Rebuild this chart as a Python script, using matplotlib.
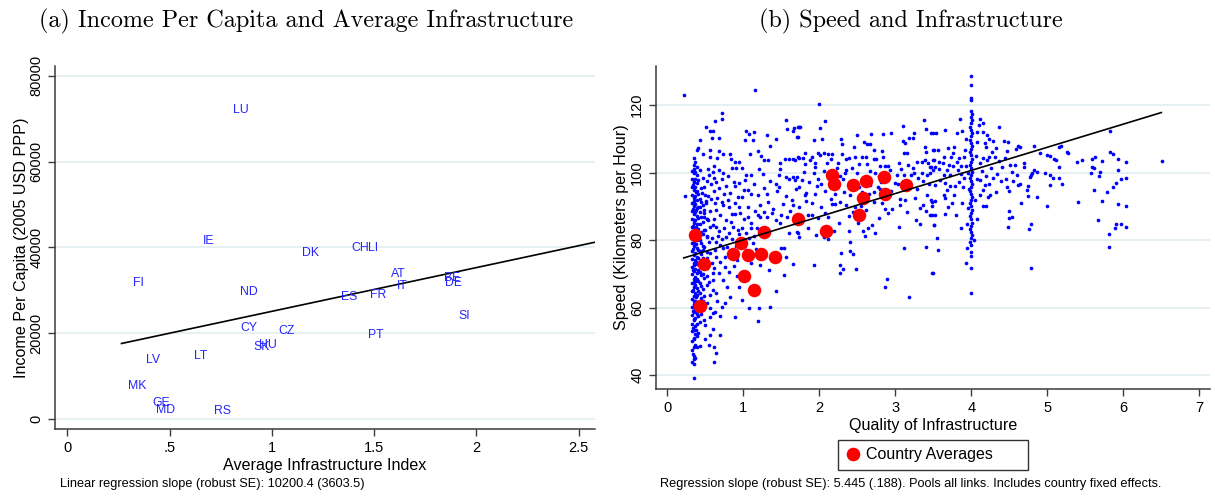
import matplotlib
matplotlib.use("Agg")
import matplotlib.pyplot as plt
from matplotlib.lines import Line2D

plt.rcParams.update({
    "font.family": "Liberation Sans",
    "font.size": 10,
    "axes.unicode_minus": False
})

# ---- panel (a): income per capita vs average infrastructure ----
countries = ["LU", "IE", "DK", "CH", "LI", "AT", "IT", "BE", "DE", "FI", "ND", "ES",
             "FR", "SI", "CY", "CZ", "PT", "HU", "SK", "LV", "LT", "MK", "GE", "MD", "RS"]
infra_idx = [0.85, 0.69, 1.19, 1.43, 1.495, 1.62, 1.64, 1.88, 1.89, 0.35, 0.89, 1.38,
             1.52, 1.94, 0.89, 1.07, 1.51, 0.98, 0.95, 0.42, 0.65, 0.34, 0.46, 0.48, 0.76]
income = [72100, 41500, 38700, 39900, 39900, 33900, 31000, 32900, 31600, 31800, 29700, 28400,
          29000, 24100, 21300, 20500, 19700, 17300, 16700, 13800, 14800, 7800, 3700, 2200, 1800]
fit_a_slope = 10200.4
fit_a_intercept = 14900
fit_a_range = [0.265, 2.6]

# ---- panel (b): speed vs quality of infrastructure ----
country_avg_x = [0.37, 0.49, 0.44, 0.87, 0.97, 1.06, 1.01, 1.14, 1.23, 1.27, 1.42, 1.72,
                 2.09, 2.17, 2.19, 2.45, 2.61, 2.58, 2.52, 2.85, 2.86, 3.14]
country_avg_y = [81.4, 72.8, 60.5, 75.8, 79.2, 75.7, 69.3, 65.1, 76.0, 82.3, 75.0, 86.3,
                 82.6, 99.2, 96.6, 96.3, 97.4, 92.5, 87.5, 98.7, 93.8, 96.4]
fit_b_x = [0.22, 6.50]
fit_b_y = [74.7, 117.8]

# dense column of links with the lowest infrastructure score
col_low_x = [0.33, 0.35, 0.37, 0.39, 0.34, 0.36, 0.38, 0.41, 0.43, 0.45, 0.47, 0.49, 0.52]
col_low_y = [
    [44.0, 47.5, 50.2, 52.9, 55.1, 57.8, 60.3, 62.6, 64.9, 67.3, 69.8, 72.1, 74.4, 76.9,
     79.2, 81.6, 83.8, 86.3, 88.5, 91.0, 93.4, 95.7, 98.1, 100.6],
    [43.2, 45.6, 48.3, 51.0, 53.4, 56.2, 58.7, 61.1, 63.5, 66.0, 68.4, 70.9, 73.2, 75.6,
     78.1, 80.4, 82.9, 85.2, 87.7, 90.1, 92.6, 94.9, 97.3, 99.8, 102.4, 104.2],
    [45.1, 49.0, 52.1, 54.6, 57.0, 59.5, 62.0, 64.2, 66.8, 69.1, 71.5, 74.0, 76.3, 78.8,
     81.1, 83.5, 86.0, 88.4, 90.8, 93.1, 95.6, 98.0, 100.3, 103.1],
    [48.4, 51.6, 55.0, 58.2, 60.9, 63.7, 65.9, 68.6, 70.3, 72.8, 75.1, 77.6, 80.1, 82.3,
     84.7, 87.1, 89.6, 92.0, 94.4, 96.9, 99.2, 101.8],
    [46.3, 54.0, 59.1, 65.2, 71.0, 77.4, 84.2, 89.3, 96.4],
    [44.6, 50.8, 56.7, 61.8, 67.7, 72.6, 79.7, 85.9, 91.7, 97.1, 101.2],
    [53.3, 58.9, 63.0, 67.9, 73.5, 78.9, 84.0, 89.0, 94.3],
    [52.5, 57.4, 61.5, 64.8, 68.0, 71.2, 74.6, 77.1, 80.6, 83.4, 86.6, 89.9, 93.7, 97.9],
    [55.6, 60.8, 64.4, 67.2, 70.6, 73.9, 76.7, 79.9, 84.8, 88.2, 92.2],
    [58.1, 62.9, 66.3, 69.5, 72.4, 75.9, 79.0, 82.5, 86.9, 91.3, 95.5],
    [61.9, 65.6, 70.0, 74.7, 78.3, 81.7, 85.4, 90.4],
    [63.3, 68.8, 73.0, 77.9, 83.1, 88.9],
    [66.6, 71.8, 76.5, 80.9, 86.1],
]

# dense column of links scored exactly 4
col_four_x = [4.00, 3.99, 4.01]
col_four_y = [
    [78.5, 80.6, 82.4, 84.3, 86.2, 88.1, 90.0, 91.8, 93.7, 95.6, 97.5, 99.4, 101.3, 103.2,
     105.1, 107.0, 108.9, 110.8, 112.7, 114.6, 116.5, 118.3, 121.5, 122.0, 125.9, 128.7,
     76.6, 75.2, 71.8, 64.2],
    [79.5, 83.3, 87.1, 90.9, 94.6, 98.4, 102.2, 106.0, 109.8, 113.6],
    [81.5, 85.2, 89.0, 92.8, 96.5, 100.3, 104.1, 107.9, 111.7, 115.5, 117.4],
]

links_low = [
    (0.22, 123.0), (1.16, 124.4), (0.72, 117.7), (0.72, 115.8), (0.63, 115.2), (0.51, 113.5),
    (0.57, 112.2), (0.61, 112.2), (0.59, 110.4), (0.68, 110.4), (0.44, 109.8), (1.04, 112.4),
    (1.08, 111.4), (1.03, 109.6), (1.15, 112.0), (1.13, 109.6), (1.31, 111.0), (1.36, 108.0),
    (1.43, 110.0), (1.56, 115.5), (1.58, 112.9), (1.65, 112.4), (1.67, 113.2), (1.72, 113.6),
    (1.71, 110.6), (0.41, 107.3), (0.39, 106.7), (0.47, 105.5), (0.57, 106.7), (0.69, 106.5),
    (0.74, 105.5), (0.66, 104.2), (0.57, 104.5), (0.83, 105.5), (0.84, 104.1), (0.90, 103.2),
    (0.95, 103.2), (0.91, 101.5), (0.99, 101.5), (1.09, 105.5), (1.19, 106.3), (1.24, 104.9),
    (1.27, 103.7), (1.21, 101.1), (1.33, 103.7), (1.48, 102.7), (1.49, 101.1), (1.55, 104.1),
    (1.61, 104.1), (1.66, 104.1), (1.72, 104.7), (0.62, 101.9), (0.54, 101.1), (0.68, 100.9),
    (0.73, 99.8), (0.62, 98.3), (0.72, 98.2), (0.58, 96.6), (0.48, 95.8), (0.50, 93.4),
    (0.23, 93.2), (0.54, 93.0), (0.62, 94.6), (0.66, 92.4), (0.78, 96.0), (0.83, 94.0),
    (0.88, 97.2), (0.90, 96.0), (0.95, 96.8), (1.04, 99.3), (1.10, 99.3), (1.01, 94.8),
    (1.06, 94.8), (0.93, 92.8), (0.99, 92.8), (1.11, 93.8), (1.19, 93.3), (1.28, 95.3),
    (1.32, 93.8), (1.43, 96.6), (1.47, 95.8), (1.45, 94.6), (1.56, 98.6), (1.61, 98.2),
    (1.66, 98.6), (1.68, 97.8), (1.57, 93.0), (1.64, 91.9), (1.66, 90.3), (0.43, 89.9),
    (0.51, 90.9), (0.57, 88.7), (0.63, 90.9), (0.72, 91.3), (0.74, 90.3), (0.81, 89.9),
    (0.86, 87.7), (0.90, 87.7), (0.96, 88.1), (0.95, 89.7), (1.06, 89.7), (1.06, 86.9),
    (1.16, 88.7), (1.19, 87.3), (1.22, 86.9), (1.28, 88.4), (1.31, 86.9), (1.38, 87.9),
    (1.43, 85.9), (1.50, 87.3), (1.49, 85.1), (1.58, 86.9), (1.60, 82.2), (1.72, 82.2),
    (0.48, 86.9), (0.54, 85.9), (0.62, 86.3), (0.50, 83.0), (0.57, 83.9), (0.65, 83.9),
    (0.67, 81.2), (0.75, 83.5), (0.81, 82.0), (0.87, 83.9), (0.93, 83.0), (0.99, 83.5),
    (1.04, 82.0), (1.10, 83.5), (1.11, 85.1), (1.18, 83.5), (1.22, 83.0), (0.55, 79.5),
    (0.65, 79.5), (0.70, 78.5), (0.74, 77.5), (0.79, 78.0), (0.63, 77.2), (0.57, 76.2),
    (0.65, 75.1), (0.76, 75.1), (0.83, 75.1), (0.92, 74.1), (1.04, 77.0), (1.13, 79.2),
    (1.11, 73.1), (1.22, 72.6), (1.34, 71.1), (1.44, 76.0), (1.50, 77.5), (1.54, 77.5),
    (1.56, 74.9), (1.65, 72.9), (1.54, 69.5), (1.43, 65.0), (1.36, 60.2), (1.21, 59.8),
    (1.08, 59.8), (1.20, 56.0), (0.90, 57.1), (0.98, 62.2), (0.83, 63.0), (0.94, 66.2),
    (0.72, 60.2), (0.76, 61.2), (0.60, 65.2), (0.65, 64.2), (0.55, 67.7), (0.61, 68.3),
    (0.61, 70.3), (0.68, 70.1), (0.74, 68.1), (0.79, 66.0), (0.57, 59.8), (0.60, 58.3),
    (0.63, 58.8), (0.56, 57.1), (0.48, 56.3), (0.56, 52.0), (0.50, 50.6), (0.70, 51.8),
    (0.44, 48.6), (0.62, 48.2), (0.64, 46.4), (0.62, 43.9), (0.35, 39.0),
    (0.44, 100.9), (0.47, 98.4), (0.52, 97.6), (0.55, 99.4), (0.60, 100.2), (0.64, 97.1),
    (0.69, 95.3), (0.75, 93.6), (0.80, 99.0), (0.85, 101.3), (0.46, 93.9), (0.51, 91.7),
    (0.58, 92.1), (0.65, 88.9), (0.70, 87.4), (0.77, 86.0), (0.84, 85.4), (0.49, 88.0),
    (0.53, 86.2), (0.60, 84.6), (0.68, 82.6), (0.72, 80.3), (0.78, 80.9), (0.86, 80.4),
    (0.91, 78.3), (0.95, 81.7), (1.01, 86.2), (1.08, 80.7), (1.15, 81.3), (1.17, 77.3),
    (0.53, 81.1), (0.59, 80.7), (0.47, 77.2), (0.53, 74.8), (0.59, 73.2), (0.62, 71.6),
    (0.70, 73.4), (0.76, 71.9), (0.82, 70.4), (0.88, 72.3), (0.92, 69.4), (0.52, 69.3),
    (0.57, 63.8), (0.53, 61.2), (0.66, 61.9), (0.70, 57.4), (0.50, 54.7), (0.55, 48.9),
    (0.60, 53.6), (1.22, 90.4), (1.33, 91.4), (1.39, 89.2), (1.26, 99.7), (1.36, 97.6),
    (1.47, 99.2), (1.52, 90.8), (1.62, 88.6), (1.70, 95.1), (1.15, 96.5), (1.03, 97.8),
    (0.89, 91.0), (0.80, 92.0),
]

links_mid = [
    (2.00, 120.2), (2.08, 115.3), (2.01, 113.1), (2.04, 110.1), (1.93, 109.6), (1.73, 113.6),
    (1.75, 113.6), (1.72, 110.6), (2.29, 109.9), (2.30, 108.6), (2.50, 111.1), (2.46, 107.7),
    (2.59, 109.1), (2.63, 108.6), (2.68, 111.4), (2.67, 108.6), (2.84, 111.4), (2.95, 111.8),
    (3.10, 113.8), (3.10, 109.4), (3.13, 108.9), (3.18, 110.4), (3.23, 110.2), (3.25, 111.6),
    (3.38, 115.5), (3.40, 112.8), (3.47, 111.8), (3.39, 107.5), (3.40, 106.0), (3.50, 106.7),
    (1.82, 105.7), (1.90, 104.7), (1.99, 105.7), (2.01, 105.2), (2.06, 105.7), (2.12, 105.5),
    (2.17, 105.5), (2.30, 105.5), (1.74, 104.2), (1.79, 104.2), (1.88, 103.7), (1.95, 101.7),
    (1.82, 102.5), (1.68, 103.7), (2.11, 102.9), (2.16, 104.1), (2.25, 102.7), (2.36, 103.9),
    (2.39, 104.3), (2.47, 104.5), (2.56, 104.7), (2.61, 104.7), (2.72, 104.1), (2.75, 103.9),
    (2.72, 106.7), (2.83, 106.5), (2.84, 104.7), (2.63, 102.5), (2.80, 102.1), (2.86, 101.9),
    (2.90, 102.1), (3.05, 102.7), (3.11, 105.7), (3.15, 105.7), (2.90, 98.8), (3.24, 101.5),
    (3.29, 103.2), (3.35, 103.1), (3.39, 103.7), (3.43, 102.7), (3.47, 101.7), (3.51, 103.7),
    (1.71, 98.6), (1.77, 97.8), (1.93, 99.8), (1.98, 98.0), (1.97, 96.0), (2.03, 96.6),
    (1.74, 95.8), (1.83, 94.0), (1.82, 93.3), (2.18, 97.8), (2.21, 93.8), (2.25, 96.8),
    (2.34, 99.8), (2.36, 100.7), (2.32, 98.0), (2.40, 96.3), (2.41, 93.3), (2.33, 94.3),
    (2.50, 99.8), (2.52, 95.8), (2.56, 94.2), (2.67, 96.3), (2.74, 99.8), (2.77, 95.8),
    (2.80, 95.0), (2.72, 94.2), (2.82, 97.3), (2.90, 98.3), (3.00, 96.8), (3.04, 96.6),
    (3.11, 99.3), (3.21, 99.3), (3.25, 99.8), (3.30, 98.3), (3.35, 100.0), (3.42, 99.3),
    (3.46, 100.0), (3.50, 100.9), (3.42, 93.3), (3.47, 92.0), (3.49, 90.1), (3.37, 90.4),
    (3.32, 89.4), (3.32, 84.9), (3.27, 85.9), (3.48, 87.4), (3.51, 84.4), (3.40, 77.8),
    (3.49, 70.1), (3.18, 63.0), (2.89, 68.6), (2.87, 66.2), (3.12, 77.5), (3.13, 91.9),
    (3.07, 92.3), (2.96, 89.1), (2.90, 87.9), (2.86, 89.1), (2.83, 90.9), (2.72, 91.4),
    (2.70, 84.4), (2.74, 82.0), (2.64, 83.5), (2.60, 81.2), (2.58, 82.8), (2.55, 90.1),
    (2.47, 89.9), (2.39, 87.1), (2.44, 88.3), (2.39, 82.6), (2.40, 79.4), (2.40, 76.8),
    (2.45, 75.8), (2.49, 71.5), (2.32, 71.3), (2.27, 70.3), (2.28, 72.6), (2.29, 76.2),
    (2.21, 90.7), (2.17, 90.7), (2.12, 86.9), (2.08, 87.9), (2.03, 89.7), (1.90, 91.1),
    (1.86, 87.4), (1.91, 87.4), (2.04, 83.0), (1.86, 83.5), (1.73, 85.1), (1.71, 82.5),
    (1.73, 81.0), (1.96, 81.4), (2.07, 80.8), (2.12, 80.2), (2.19, 82.8), (1.74, 89.9),
    (1.93, 72.6),
    (1.80, 100.2), (1.87, 97.2), (1.94, 102.8), (2.06, 100.6), (2.14, 99.1), (2.23, 101.5),
    (2.28, 98.9), (2.43, 101.3), (2.53, 102.6), (2.67, 100.4), (2.79, 98.9), (2.93, 100.9),
    (3.02, 99.4), (3.08, 101.1), (3.17, 102.2), (3.20, 96.6), (3.29, 95.1), (3.36, 97.4),
    (3.44, 96.5), (1.83, 91.5), (1.95, 93.6), (2.08, 94.4), (2.15, 92.2), (2.27, 91.2),
    (2.36, 90.3), (2.62, 89.0), (2.66, 93.8), (2.95, 94.4), (3.06, 90.5), (3.15, 88.4),
    (3.26, 92.6), (3.40, 88.6), (1.78, 86.1), (1.99, 86.4), (2.26, 85.2), (2.51, 85.0),
    (2.79, 86.6), (3.05, 84.0),
]

links_high = [
    (3.85, 116.0), (3.65, 112.6), (3.50, 111.8), (3.54, 111.8), (3.81, 111.6), (3.88, 112.4),
    (3.93, 110.1), (4.11, 116.0), (4.10, 114.0), (4.15, 114.6), (4.08, 112.1), (4.37, 113.4),
    (4.21, 111.0), (4.24, 110.0), (4.29, 109.3), (4.18, 108.8), (4.43, 109.4), (4.49, 109.2),
    (4.61, 108.0), (4.64, 107.5), (4.59, 106.9), (4.82, 108.0), (4.91, 105.9), (5.00, 105.1),
    (5.04, 104.9), (5.15, 107.7), (5.18, 108.0), (5.26, 106.1), (5.11, 103.7), (5.16, 101.7),
    (5.09, 103.9), (3.70, 107.2), (3.78, 107.7), (3.76, 105.7), (3.73, 104.7), (3.64, 104.5),
    (3.56, 106.7), (3.51, 106.7), (3.50, 103.7), (3.57, 103.2), (3.63, 102.7), (3.53, 101.7),
    (3.46, 101.7), (3.68, 100.7), (3.72, 99.3), (3.76, 101.9), (3.81, 103.2), (3.92, 106.7),
    (3.90, 104.7), (3.87, 101.9), (3.82, 100.7), (3.86, 99.6), (3.93, 101.9), (3.96, 99.8),
    (3.90, 98.3), (4.20, 107.5), (4.27, 106.2), (4.24, 104.7), (4.16, 104.2), (4.21, 103.7),
    (4.12, 102.7), (4.31, 104.7), (4.37, 103.5), (4.44, 104.2), (4.51, 102.2), (4.57, 102.2),
    (4.69, 102.9), (4.69, 101.7), (4.82, 100.7), (4.86, 100.1), (4.78, 99.3), (4.77, 98.6),
    (4.80, 99.8), (4.97, 100.0), (5.03, 99.3), (5.07, 98.5), (5.15, 98.3), (5.19, 96.6),
    (5.03, 96.2), (4.08, 98.2), (4.12, 97.8), (4.18, 96.3), (4.24, 96.6), (4.16, 94.8),
    (4.11, 93.3), (4.25, 93.3), (4.22, 92.8), (4.15, 90.1), (4.20, 90.1), (4.32, 94.2),
    (4.28, 98.3), (4.39, 97.4), (4.47, 95.8), (4.50, 94.6), (4.55, 97.6), (4.61, 96.3),
    (4.64, 96.6), (4.73, 94.8), (4.75, 96.0), (4.75, 93.2), (4.86, 92.8), (4.65, 90.9),
    (5.00, 90.1), (4.50, 88.7), (4.50, 86.6), (4.54, 86.7), (4.49, 83.8), (4.78, 84.9),
    (4.76, 83.2), (4.79, 71.6), (3.50, 70.1), (3.56, 77.0), (3.55, 80.5), (3.51, 84.4),
    (3.52, 87.4), (3.46, 87.4), (3.66, 87.7), (3.69, 89.7), (3.64, 93.5), (3.66, 92.6),
    (3.53, 91.7), (3.48, 91.4), (3.78, 93.3), (3.75, 90.9), (3.80, 87.4), (3.88, 91.1),
    (3.86, 83.5), (3.94, 77.5), (3.93, 73.3), (3.72, 96.0), (3.79, 96.0), (3.68, 94.8),
    (3.84, 97.2), (3.53, 96.3), (3.59, 97.8), (3.64, 99.3),
    (3.58, 101.0), (3.66, 97.0), (3.71, 102.4), (3.84, 104.4), (3.89, 95.6), (4.06, 104.8),
    (4.14, 100.6), (4.19, 98.9), (4.26, 101.4), (4.34, 99.6), (4.41, 101.6), (4.46, 98.2),
    (4.53, 100.3), (4.60, 99.2), (4.33, 107.4), (4.47, 106.3), (4.07, 109.2), (4.16, 111.9),
    (3.97, 95.1), (3.96, 89.6), (4.05, 91.8), (4.08, 86.2), (3.95, 84.8), (4.04, 80.1),
    (5.27, 105.7), (5.39, 103.2), (5.46, 103.7), (5.59, 104.1), (5.63, 104.5), (5.72, 103.3),
    (5.82, 112.3), (5.83, 106.2), (5.87, 105.4), (5.93, 104.0), (6.03, 103.1), (6.51, 103.3),
    (5.59, 101.7), (5.61, 101.3), (5.58, 99.8), (5.70, 100.2), (5.68, 99.0), (5.93, 100.9),
    (6.03, 98.3), (5.97, 98.0), (5.91, 96.8), (5.86, 95.8), (5.79, 94.2), (5.62, 94.8),
    (5.40, 91.2), (5.72, 91.6), (5.93, 90.7), (6.03, 90.2), (5.67, 85.9), (5.90, 84.8),
    (5.97, 84.9), (5.89, 83.6), (6.03, 84.0), (5.81, 81.8), (5.81, 77.8),
]

speed_x, speed_y = [], []
for cx, ys in zip(col_low_x + col_four_x, col_low_y + col_four_y):
    speed_x += [cx] * len(ys)
    speed_y += ys
for px, py in links_low + links_mid + links_high:
    speed_x.append(px)
    speed_y.append(py)

GRID = "#E4EEF0"
AXIS = "#3a3a3a"


def style_axes(ax):
    ax.spines["top"].set_visible(False)
    ax.spines["right"].set_visible(False)
    for s in ("left", "bottom"):
        ax.spines[s].set_color(AXIS)
        ax.spines[s].set_linewidth(1.1)
    ax.tick_params(axis="both", colors="black", length=5, width=1.0, labelsize=10.5,
                   direction="out")
    ax.tick_params(axis="both", color=AXIS)
    ax.tick_params(axis="y", labelrotation=90)
    ax.yaxis.grid(True, color=GRID, linewidth=1.3)
    ax.set_axisbelow(True)


fig = plt.figure(figsize=(12.15, 4.96), dpi=100)
W, H = 1215, 496

# panel (a)
ax1 = fig.add_axes([55 / W, (H - 429) / H, 540 / W, 363 / H])
style_axes(ax1)
for code, xv, yv in zip(countries, infra_idx, income):
    ax1.text(xv, yv, code, color="#2424ff", fontsize=8.8, ha="center", va="center")
fa_y = [fit_a_intercept + fit_a_slope * v for v in fit_a_range]
ax1.plot(fit_a_range, fa_y, color="black", linewidth=1.2)
ax1.set_xlim(-0.06, 2.58)
ax1.set_ylim(-2330, 82300)
ax1.set_xticks([0, 0.5, 1, 1.5, 2, 2.5])
ax1.set_xticklabels(["0", ".5", "1", "1.5", "2", "2.5"])
ax1.set_yticks([0, 20000, 40000, 60000, 80000])
for lab in ax1.get_yticklabels():
    lab.set_va("center")
ax1.set_xlabel("Average Infrastructure Index", fontsize=11.6, labelpad=2)
ax1.set_ylabel("Income Per Capita (2005 USD PPP)", fontsize=11.6, labelpad=0)

# panel (b)
ax2 = fig.add_axes([656 / W, (H - 389) / H, 554 / W, 323 / H])
style_axes(ax2)
ax2.scatter(speed_x, speed_y, s=7, color="#0000ff", linewidths=0, zorder=2)
ax2.scatter(country_avg_x, country_avg_y, s=95, color="#ff0000", linewidths=0, zorder=3)
ax2.plot(fit_b_x, fit_b_y, color="black", linewidth=1.2, zorder=4)
ax2.set_xlim(-0.145, 7.14)
ax2.set_ylim(35.85, 131.6)
ax2.set_xticks(range(0, 8))
ax2.set_yticks([40, 60, 80, 100, 120])
for lab in ax2.get_yticklabels():
    lab.set_va("center")
ax2.set_xlabel("Quality of Infrastructure", fontsize=11.6, labelpad=2)
ax2.set_ylabel("Speed (Kilometers per Hour)", fontsize=11.6, labelpad=1)

handle = Line2D([], [], marker="o", linestyle="", color="#ff0000", markersize=8.8)
leg = fig.legend([handle], ["Country Averages      "], loc="center",
                 bbox_to_anchor=(933 / W, 1 - 455 / H), frameon=True, fancybox=False,
                 edgecolor="black", fontsize=11.5, handletextpad=0.35, borderpad=0.5,
                 handlelength=0.9, borderaxespad=0)
leg.get_frame().set_linewidth(1.0)

# titles and notes
fig.text(306 / W, 1 - 21 / H, "(a) Income Per Capita and Average Infrastructure",
         family="cmr10", fontsize=17.4, ha="center", va="center")
fig.text(911 / W, 1 - 21 / H, "(b) Speed and Infrastructure",
         family="cmr10", fontsize=17.4, ha="center", va="center")
fig.text(60 / W, 1 - 484 / H, "Linear regression slope (robust SE): 10200.4 (3603.5)",
         fontsize=9.2, va="center")
fig.text(660 / W, 1 - 484 / H,
         "Regression slope (robust SE): 5.445 (.188). Pools all links. Includes country fixed effects.",
         fontsize=9.2, va="center")

fig.savefig("out.png", dpi=100)
